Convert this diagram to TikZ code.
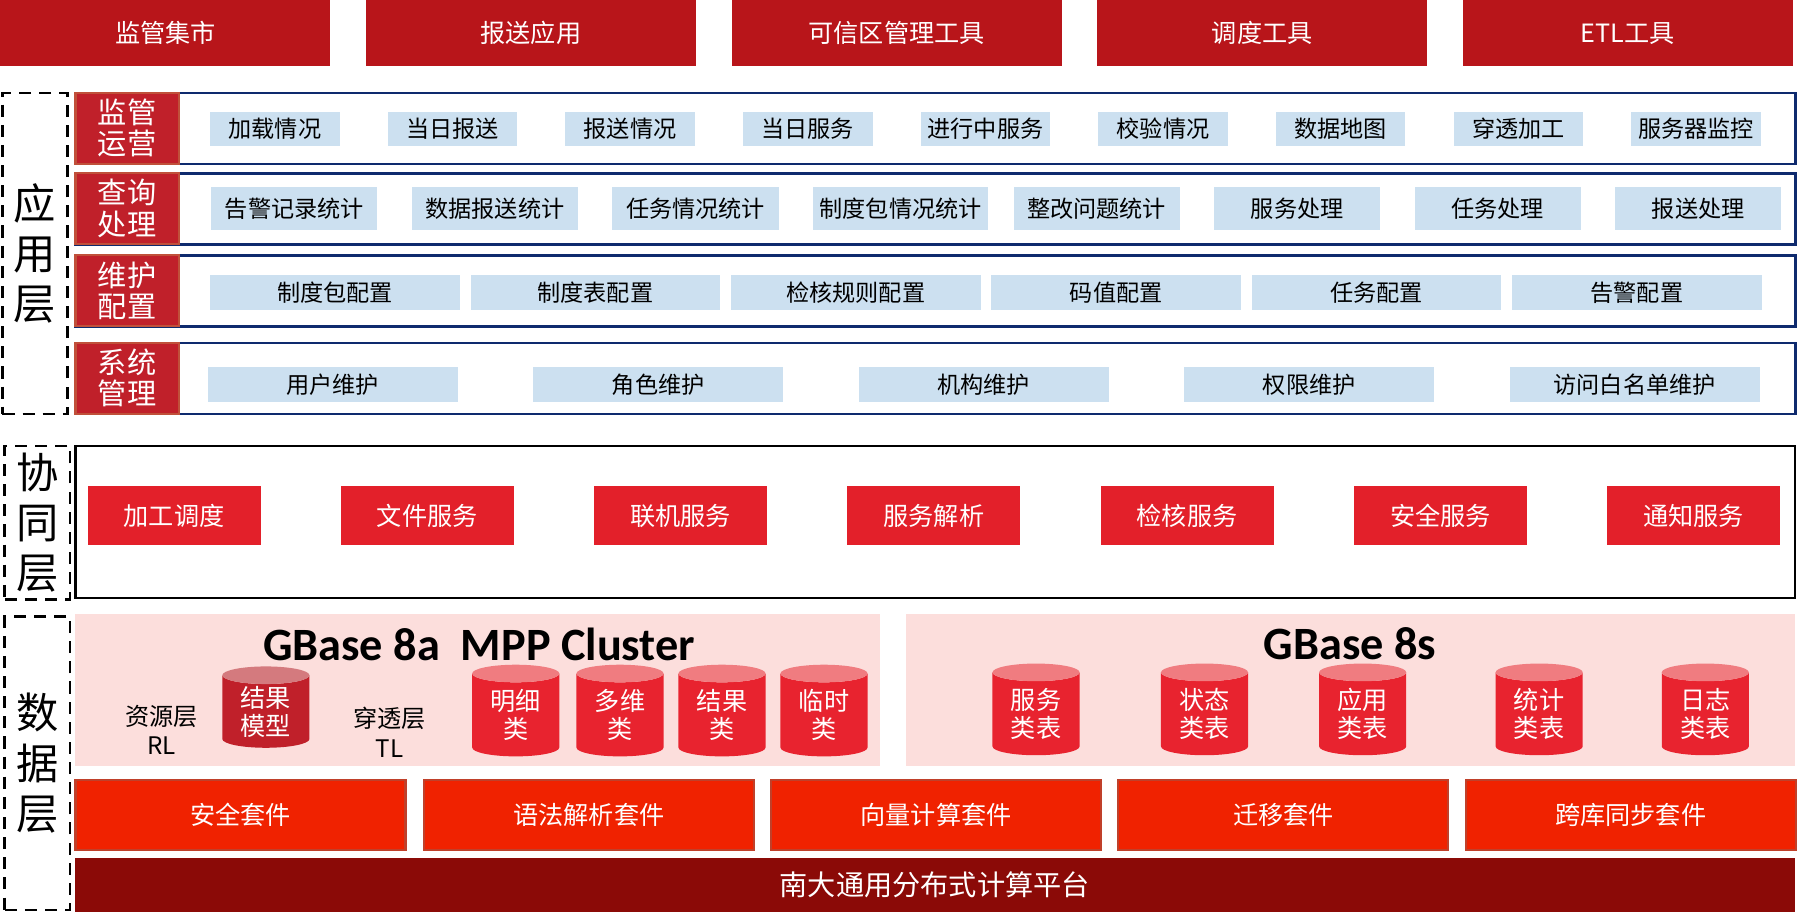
\documentclass[tikz,border=0pt]{standalone}
\usepackage{fontspec}
\setmainfont{Noto Sans CJK SC}
\newfontfamily\lat{Carlito}
\usetikzlibrary{shapes.geometric}
\definecolor{topred}{HTML}{B8151A}
\definecolor{lblred}{HTML}{C0202A}
\definecolor{lblbd}{HTML}{C0503A}
\definecolor{navy}{HTML}{0E2A6E}
\definecolor{itemblue}{HTML}{CCE0F0}
\definecolor{boxred}{HTML}{E3202A}
\definecolor{pink}{HTML}{FCDEDC}
\definecolor{cylred}{HTML}{E8232F}
\definecolor{cyltop}{HTML}{F07C80}
\definecolor{cyldark}{HTML}{C0202A}
\definecolor{cyldtop}{HTML}{D47A7E}
\definecolor{suite}{HTML}{F02200}
\definecolor{suitebd}{HTML}{C0402A}
\definecolor{base}{HTML}{8B0A07}
\begin{document}
\begin{tikzpicture}[x=0.02cm,y=-0.02cm,
 topbar/.style={fill=topred,draw=none,text=white,font=\fontsize{12.5}{13}\selectfont},
 lbl/.style={fill=lblred,draw=lblbd,line width=1pt,text=white,font=\fontsize{14.5}{15.5}\selectfont,align=center},
 rowbox/.style={draw=navy,line width=1.3pt},
 item/.style={fill=itemblue,draw=none,font=\fontsize{11.5}{12}\selectfont},
 dashbox/.style={draw=black,line width=1.3pt,dash pattern=on 6pt off 4pt},
 layer/.style={font=\fontsize{21}{25}\selectfont,align=center},
 cbox/.style={fill=boxred,draw=none,text=white,font=\fontsize{12.5}{13}\selectfont},
 suiteb/.style={fill=suite,draw=suitebd,line width=1pt,text=white,font=\fontsize{12.5}{13}\selectfont},
 cyl/.style={cylinder,shape border rotate=90,aspect=0.35,minimum width=1.52cm,minimum height=1.6cm,cylinder uses custom fill,cylinder body fill=cylred,cylinder end fill=cyltop,text=white,inner sep=0pt,align=center,font=\fontsize{12.5}{14}\selectfont},
 cyld/.style={cyl,cylinder body fill=cyldark,cylinder end fill=cyldtop,minimum height=1.42cm}]
\useasboundingbox (0,0) rectangle (1568,796);
% top bars
\foreach \x/\t [count=\i] in {0/监管集市,319/报送应用,638/可信区管理工具,957/调度工具,1276/ETL工具}
  \node[topbar,minimum width=5.76cm,minimum height=1.14cm,anchor=north west] (top\i) at (\x,0) {\t};
% application layer
\node[dashbox,minimum width=1.14cm,minimum height=5.6cm,anchor=north west,layer] (appL) at (1,80) {应\\用\\层};
\foreach \y/\a/\b [count=\r] in {80/监管/运营,150/查询/处理,222/维护/配置,298/系统/管理}{
  \node[rowbox,minimum width=30.02cm,minimum height=1.24cm,anchor=north west] (row\r) at (65,\y) {};
  \node[lbl,minimum width=1.8cm,minimum height=1.24cm,anchor=north west,inner sep=0pt] (lab\r) at (65,\y) {\a\\\b};
}
\foreach \t [count=\i] in {加载情况,当日报送,报送情况,当日服务,进行中服务,校验情况,数据地图,穿透加工,服务器监控}
  \node[item,minimum width=2.26cm,minimum height=0.6cm,anchor=north west] (a\i) at ({183+155*(\i-1)},97) {\t};
\foreach \t [count=\i] in {告警记录统计,数据报送统计,任务情况统计,制度包情况统计,整改问题统计,服务处理,任务处理,报送处理}
  \node[item,minimum width=2.9cm,minimum height=0.74cm,anchor=north west] (b\i) at ({184+175*(\i-1)},163) {\t};
\foreach \t [count=\i] in {制度包配置,制度表配置,检核规则配置,码值配置,任务配置,告警配置}
  \node[item,minimum width=4.36cm,minimum height=0.6cm,anchor=north west] (c\i) at ({183+227.2*(\i-1)},240) {\t};
\foreach \t [count=\i] in {用户维护,角色维护,机构维护,权限维护,访问白名单维护}
  \node[item,minimum width=4.36cm,minimum height=0.56cm,anchor=north west] (d\i) at ({181+284*(\i-1)},320) {\t};
% collaboration layer
\node[dashbox,minimum width=1.14cm,minimum height=2.66cm,anchor=north west,layer] (colL) at (3,388) {协\\同\\层};
\node[draw=black,line width=1pt,minimum width=30.02cm,minimum height=2.66cm,anchor=north west] (colB) at (65,388) {};
\foreach \t [count=\i] in {加工调度,文件服务,联机服务,服务解析,检核服务,安全服务,通知服务}
  \node[cbox,minimum width=3.02cm,minimum height=1.02cm,anchor=north west] (e\i) at ({76+221*(\i-1)},424) {\t};
% data layer
\node[dashbox,minimum width=1.14cm,minimum height=5.12cm,anchor=north west,layer] (datL) at (3,537) {数\\据\\层};
\node[fill=pink,minimum width=14.06cm,minimum height=2.66cm,anchor=north west] (p1) at (65,535) {};
\node[fill=pink,minimum width=15.52cm,minimum height=2.66cm,anchor=north west] (p2) at (790,535) {};
\node[font=\lat\bfseries\fontsize{23}{26}\selectfont] (t1) at (418,562) {GBase 8a\ \ MPP Cluster};
\node[font=\lat\bfseries\fontsize{23}{26}\selectfont] (t2) at (1178,562) {GBase 8s};
\node[align=center,font=\fontsize{12}{14.5}\selectfont] (rl) at (141,637) {资源层\\RL};
\node[align=center,font=\fontsize{12}{14.5}\selectfont] (tl) at (340,639) {穿透层\\TL};
\node[cyld] (k0) at (232,621) {结果\\模型};
\foreach \x/\a [count=\i] in {450/明细,541/多维,630/结果,719/临时}
  \node[cyl] (k\i) at (\x,624) {\a\\类};
\foreach \x/\a [count=\i] in {904/服务,1051/状态,1189/应用,1343/统计,1488/日志}
  \node[cyl] (s\i) at (\x,623) {\a\\类表};
\foreach \x/\t [count=\i] in {65/安全套件,369/语法解析套件,672/向量计算套件,975/迁移套件,1278/跨库同步套件}
  \node[suiteb,minimum width=5.76cm,minimum height=1.22cm,anchor=north west] (f\i) at (\x,680) {\t};
\node[fill=base,text=white,minimum width=30.02cm,minimum height=0.94cm,anchor=north west,font=\fontsize{14}{15}\selectfont] (basebar) at (65,748) {南大通用分布式计算平台};
\end{tikzpicture}
\end{document}
